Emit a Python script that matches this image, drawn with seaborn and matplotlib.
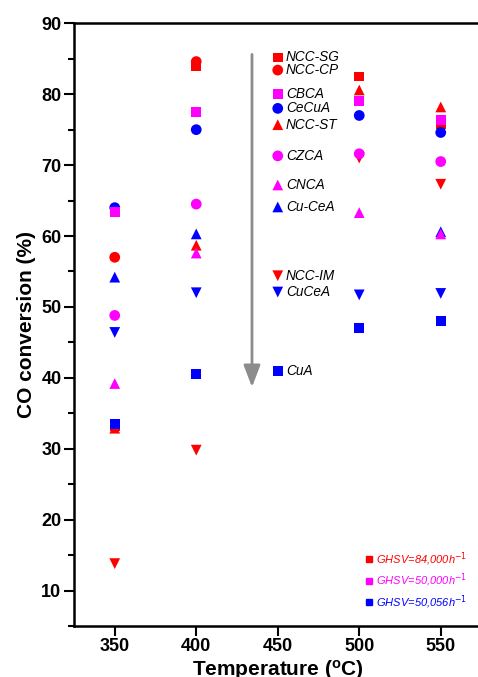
import numpy as np
import pandas as pd
import matplotlib
matplotlib.use("Agg")
import matplotlib.pyplot as plt
from matplotlib.lines import Line2D
import seaborn as sns

# catalyst series: temperatures and CO conversion
ncc_sg_t = [350, 400, 500, 550]
ncc_sg_y = [33.2, 84.0, 82.5, 75.8]
ncc_cp_t = [350, 400]
ncc_cp_y = [57.0, 84.6]
ncc_st_t = [350, 400, 500, 550]
ncc_st_y = [32.9, 58.7, 80.6, 78.2]
ncc_im_t = [350, 400, 500, 550]
ncc_im_y = [13.8, 29.8, 71.0, 67.3]
cecua_t = [350, 400, 500, 550]
cecua_y = [64.0, 75.0, 77.0, 74.6]
cu_cea_t = [350, 400, 550]
cu_cea_y = [54.2, 60.3, 60.6]
cucea_t = [350, 400, 500, 550]
cucea_y = [46.4, 52.0, 51.7, 51.9]
cua_t = [350, 400, 500, 550]
cua_y = [33.5, 40.5, 47.0, 48.0]
cbca_t = [350, 400, 500, 550]
cbca_y = [63.4, 77.5, 79.0, 76.4]
czca_t = [350, 400, 500, 550]
czca_y = [48.8, 64.5, 71.6, 70.5]
cnca_t = [350, 400, 500, 550]
cnca_y = [39.2, 57.6, 63.3, 60.3]

# in-plot label column (at 450 C), label heights
label_y = {"NCC-SG": 85.2, "NCC-CP": 83.4, "CBCA": 80.0, "CeCuA": 78.0,
           "NCC-ST": 75.7, "CZCA": 71.3, "CNCA": 67.2, "Cu-CeA": 64.1,
           "NCC-IM": 54.4, "CuCeA": 52.1, "CuA": 41.0}

ghsv_labels = ["GHSV=84,000h$^{-1}$", "GHSV=50,000h$^{-1}$", "GHSV=50,056h$^{-1}$"]

RED, MAG, BLUE = "#ff0000", "#ff00ff", "#0000ff"

# draw order: red first, then blue, then magenta
series = [
    ("NCC-SG", ncc_sg_t, ncc_sg_y, "s", RED),
    ("NCC-CP", ncc_cp_t, ncc_cp_y, "o", RED),
    ("NCC-ST", ncc_st_t, ncc_st_y, "^", RED),
    ("NCC-IM", ncc_im_t, ncc_im_y, "v", RED),
    ("CeCuA", cecua_t, cecua_y, "o", BLUE),
    ("Cu-CeA", cu_cea_t, cu_cea_y, "^", BLUE),
    ("CuCeA", cucea_t, cucea_y, "v", BLUE),
    ("CuA", cua_t, cua_y, "s", BLUE),
    ("CBCA", cbca_t, cbca_y, "s", MAG),
    ("CZCA", czca_t, czca_y, "o", MAG),
    ("CNCA", cnca_t, cnca_y, "^", MAG),
]

sns.set_theme(style="ticks")
plt.rcParams['font.family'] = ['Liberation Sans', 'DejaVu Sans']
plt.rcParams.update({"text.color": "black", "axes.labelcolor": "black",
                     "xtick.color": "black", "ytick.color": "black"})

fig = plt.figure(figsize=(4.78, 6.77), dpi=100)
ax = fig.add_axes([0.1548, 0.0753, 0.8525, 0.8903])

sizes = {"s": 48, "o": 60, "^": 60, "v": 60}
for name, t, y, m, c in series:
    df = pd.DataFrame({"T": t, "conv": y})
    sns.scatterplot(data=df, x="T", y="conv", marker=m, color=c, s=sizes[m],
                    edgecolor="none", linewidth=0, ax=ax, zorder=3)
    # label in the 450 column
    ly = label_y[name]
    ax.scatter([450], [ly], marker=m, color=c, s=sizes[m], edgecolor="none", zorder=3)
    ax.text(455, ly, name, fontsize=9.8, style="italic", va="center", ha="left", color="black")

# downward trend arrow
ax.annotate("", xy=(434.2, 38.3), xytext=(434.2, 86.0),
            arrowprops=dict(arrowstyle="-|>,head_length=1.1,head_width=0.42",
                            color="#8c8c8c", lw=2))

handles = [Line2D([], [], marker="s", color=c, linestyle="none", markersize=5)
           for c in (RED, MAG, BLUE)]
ax.legend(handles, ghsv_labels, loc="lower left", bbox_to_anchor=(0.682, 0.008),
          frameon=False, handletextpad=0.1, labelspacing=0.38,
          prop={"style": "italic", "size": 8.0}, labelcolor=[RED, MAG, BLUE],
          handlelength=1.2)

ax.set_xlim(325, 575)
ax.set_ylim(5, 90)
ax.set_xticks([350, 400, 450, 500, 550])
ax.set_yticks(np.arange(10, 91, 10))
ax.set_yticks(np.arange(5, 90, 10), minor=True)

ax.set_xlabel("Temperature ($\\mathregular{^{o}}$C)", fontsize=15, fontweight="bold", labelpad=2)
ax.set_ylabel("CO conversion (%)", fontsize=15, fontweight="bold", labelpad=4)

for lbl in ax.get_xticklabels() + ax.get_yticklabels():
    lbl.set_fontweight("bold")
ax.tick_params(axis="both", which="major", direction="out", length=7, width=1.5,
               labelsize=13, color="black", labelcolor="black")
ax.tick_params(axis="x", which="major", pad=1.5)
ax.tick_params(axis="y", which="major", pad=2)
ax.tick_params(axis="y", which="minor", direction="out", length=4, width=1.5, color="black")

for sp in ax.spines.values():
    sp.set_linewidth(1.8)
    sp.set_color("black")

fig.savefig("out.png", dpi=100)
